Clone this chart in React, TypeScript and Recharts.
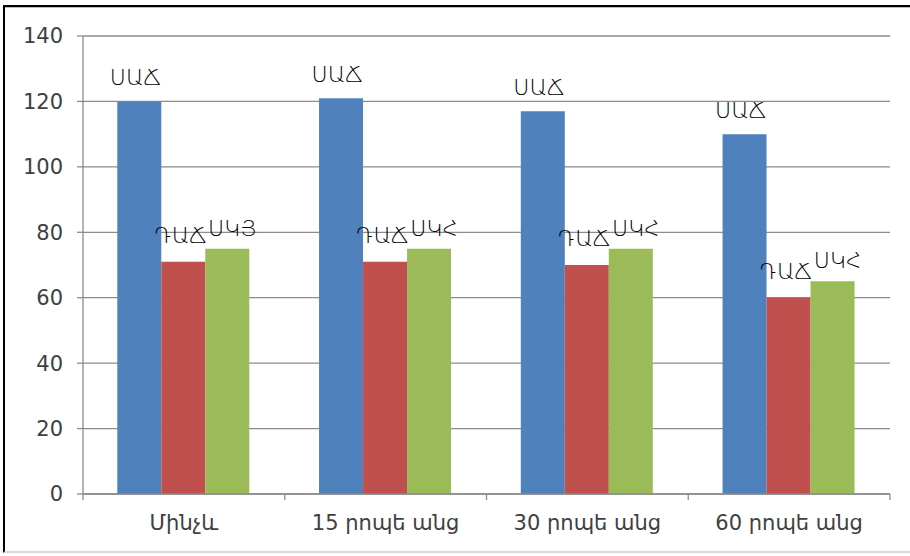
import React from 'react';
import { BarChart, Bar, XAxis, YAxis, CartesianGrid, LabelList } from 'recharts';

// Measurement moments
const categories = ['Մինչև', '15 րոպե անց', '30 րոպե անց', '60 րոպե անց'];
// Series values
const sacValues = [120, 121, 117, 110];
const dacValues = [71, 71, 70, 60];
const skhValues = [75, 75, 75, 65];
// Labels written above each series' bars
const sacLabels = ['ՍԱՃ', 'ՍԱՃ', 'ՍԱՃ', 'ՍԱՃ'];
const dacLabels = ['ԴԱՃ', 'ԴԱՃ', 'ԴԱՃ', 'ԴԱՃ'];
const skhLabels = ['ՍԿՅ', 'ՍԿՀ', 'ՍԿՀ', 'ՍԿՀ'];
const yTicks = [0, 20, 40, 60, 80, 100, 120, 140];

const data = categories.map((name, i) => ({
  name,
  sac: sacValues[i],
  dac: dacValues[i],
  skh: skhValues[i],
}));

const LABEL_FONT = '"DejaVu Sans", "Noto Sans", sans-serif';
const AXIS_GRAY = '#8c8c8c';
const TICK_MARGIN = 17;
const EDGE_TICK = 6;

const makeLabel = (texts: string[], dx: number, dy: number) => (props: any) => {
  const { x, y, width, index } = props;
  return (
    <text
      x={Number(x) + Number(width) / 2 + dx}
      y={Number(y) + dy}
      textAnchor="middle"
      fontSize={22}
      fontWeight={200}
      fontFamily={LABEL_FONT}
      fill="#000"
    >
      {texts[index]}
    </text>
  );
};

// Category label plus tick marks on the band boundaries
const CategoryTick = (props: any) => {
  const { x, y, payload, index, visibleTicksCount } = props;
  const half = Number(payload?.offset) || 0;
  const axisY = y - TICK_MARGIN;
  const isLast = index === (visibleTicksCount ?? categories.length) - 1;
  return (
    <g>
      <line x1={x - half} x2={x - half} y1={axisY} y2={axisY + EDGE_TICK} stroke={AXIS_GRAY} strokeWidth={1.3} />
      {isLast && (
        <line x1={x + half} x2={x + half} y1={axisY} y2={axisY + EDGE_TICK} stroke={AXIS_GRAY} strokeWidth={1.3} />
      )}
      <text
        x={x}
        y={y}
        dy={19}
        textAnchor="middle"
        fontSize={21}
        fontFamily={LABEL_FONT}
        fill="#404040"
      >
        {payload.value}
      </text>
    </g>
  );
};

export default function App() {
  return (
    <div style={{ position: 'absolute', left: 0, top: 0, width: 910, height: 556, background: '#fff', overflow: 'hidden' }}>
      <div
        style={{
          position: 'absolute',
          left: 3,
          top: 5,
          width: 920,
          height: 548,
          borderTop: '2px solid #000',
          borderLeft: '2px solid #000',
          borderBottom: '2px solid #d9d9d9',
          boxShadow: 'inset 0 1px 0 #bdbdbd',
          boxSizing: 'border-box',
        }}
      />
      <div style={{ position: 'absolute', left: 0, top: 0 }}>
        <BarChart
          width={910}
          height={556}
          data={data}
          margin={{ top: 36, right: 20, bottom: 0, left: 0 }}
          barCategoryGap="17%"
          barGap={0}
        >
          <CartesianGrid vertical={false} stroke={AXIS_GRAY} strokeWidth={1.3} />
          <XAxis
            dataKey="name"
            height={62}
            axisLine={{ stroke: AXIS_GRAY, strokeWidth: 1.3 }}
            tickLine={false}
            tickSize={0}
            tickMargin={TICK_MARGIN}
            tick={<CategoryTick />}
            interval={0}
          />
          <YAxis
            domain={[0, 140]}
            ticks={yTicks}
            width={83}
            axisLine={{ stroke: AXIS_GRAY, strokeWidth: 1.3 }}
            tickLine={{ stroke: AXIS_GRAY, strokeWidth: 1.3 }}
            tickSize={6}
            tickMargin={14}
            tick={{ fontSize: 21, fill: '#404040', fontFamily: LABEL_FONT }}
          />
          <Bar dataKey="sac" fill="#4F81BD" isAnimationActive={false}>
            <LabelList dataKey="sac" content={makeLabel(sacLabels, -4, -16)} />
          </Bar>
          <Bar dataKey="dac" fill="#C0504D" isAnimationActive={false}>
            <LabelList dataKey="dac" content={makeLabel(dacLabels, -3, -19)} />
          </Bar>
          <Bar dataKey="skh" fill="#9BBB59" isAnimationActive={false}>
            <LabelList dataKey="skh" content={makeLabel(skhLabels, 5, -13)} />
          </Bar>
        </BarChart>
      </div>
    </div>
  );
}
